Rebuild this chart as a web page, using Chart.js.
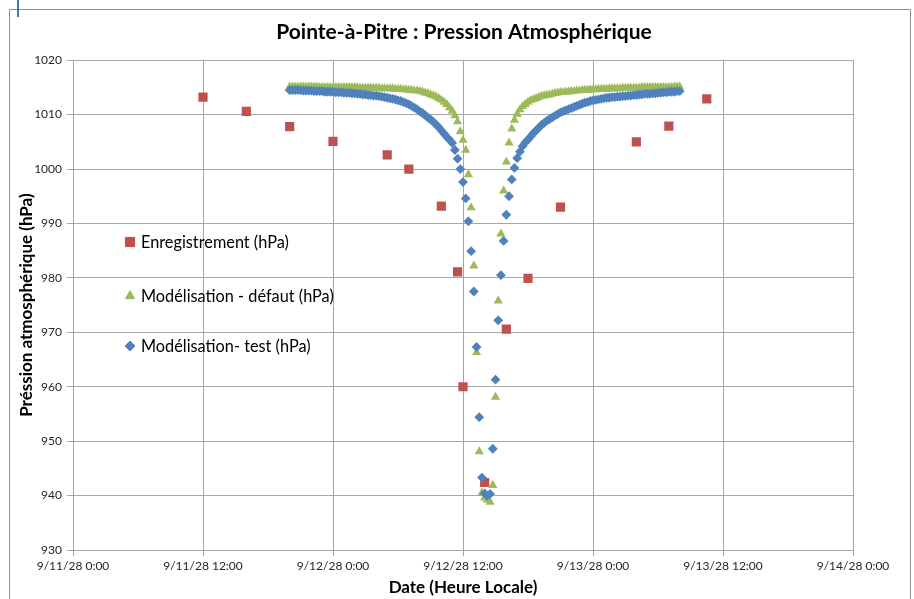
<!DOCTYPE html>
<html>
<head>
<meta charset="utf-8">
<title>Pointe-à-Pitre : Pression Atmosphérique</title>
<script src="https://cdn.jsdelivr.net/npm/chart.js@4.4.0/dist/chart.umd.min.js"></script>
<style>
  body { margin: 0; background: #fff; }
  #wrap { position: relative; width: 914px; height: 599px; }
</style>
</head>
<body>
<div id="wrap"><canvas id="pressureChart"></canvas></div>
<script>
// all times are hours counted from 9/11/28 0:00 (local time)
const recordHours  = [12, 16, 20, 24, 29, 31, 34, 35.5, 36, 38, 40, 42, 45, 52, 55, 58.5];
const recordValues = [1013.2, 1010.6, 1007.8, 1005.1, 1002.6, 1000.0, 993.2, 981.1, 960.0, 942.4, 970.6, 979.9, 993.0, 1005.0, 1007.9, 1012.9];

// model output, one value every quarter hour
const modelHours = [
  20, 20.25, 20.5, 20.75, 21, 21.25, 21.5, 21.75,
  22, 22.25, 22.5, 22.75, 23, 23.25, 23.5, 23.75,
  24, 24.25, 24.5, 24.75, 25, 25.25, 25.5, 25.75,
  26, 26.25, 26.5, 26.75, 27, 27.25, 27.5, 27.75,
  28, 28.25, 28.5, 28.75, 29, 29.25, 29.5, 29.75,
  30, 30.25, 30.5, 30.75, 31, 31.25, 31.5, 31.75,
  32, 32.25, 32.5, 32.75, 33, 33.25, 33.5, 33.75,
  34, 34.25, 34.5, 34.75, 35, 35.25, 35.5, 35.75,
  36, 36.25, 36.5, 36.75, 37, 37.25, 37.5, 37.75,
  38, 38.25, 38.5, 38.75, 39, 39.25, 39.5, 39.75,
  40, 40.25, 40.5, 40.75, 41, 41.25, 41.5, 41.75,
  42, 42.25, 42.5, 42.75, 43, 43.25, 43.5, 43.75,
  44, 44.25, 44.5, 44.75, 45, 45.25, 45.5, 45.75,
  46, 46.25, 46.5, 46.75, 47, 47.25, 47.5, 47.75,
  48, 48.25, 48.5, 48.75, 49, 49.25, 49.5, 49.75,
  50, 50.25, 50.5, 50.75, 51, 51.25, 51.5, 51.75,
  52, 52.25, 52.5, 52.75, 53, 53.25, 53.5, 53.75,
  54, 54.25, 54.5, 54.75, 55, 55.25, 55.5, 55.75,
  56
];
const defaultValues = [
  1015.1, 1015.1, 1015.1, 1015.1, 1015.1, 1015.1, 1015.1, 1015.1,
  1015.1, 1015.1, 1015.1, 1015.0, 1015.0, 1015.0, 1015.0, 1015.0,
  1015.0, 1015.0, 1015.0, 1015.0, 1015.0, 1015.0, 1015.0, 1015.0,
  1015.0, 1015.0, 1014.9, 1014.9, 1014.9, 1014.9, 1014.9, 1014.9,
  1014.9, 1014.9, 1014.8, 1014.8, 1014.8, 1014.8, 1014.8, 1014.7,
  1014.7, 1014.7, 1014.6, 1014.6, 1014.5, 1014.5, 1014.4, 1014.4,
  1014.3, 1014.2, 1014.0, 1013.9, 1013.7, 1013.5, 1013.3, 1013.0,
  1012.7, 1012.3, 1011.9, 1011.3, 1010.7, 1009.8, 1008.7, 1006.9,
  1005.3, 1003.5, 999.0, 992.9, 982.2, 966.3, 948.1, 940.5,
  939.6, 939.2, 938.8, 941.9, 958.1, 975.8, 988.1, 996.0,
  1001.3, 1004.8, 1007.4, 1009.0, 1010.1, 1010.9, 1011.5, 1011.9,
  1012.3, 1012.6, 1012.8, 1013.0, 1013.2, 1013.4, 1013.5, 1013.6,
  1013.7, 1013.8, 1013.9, 1014.0, 1014.1, 1014.1, 1014.2, 1014.2,
  1014.3, 1014.3, 1014.4, 1014.4, 1014.5, 1014.5, 1014.5, 1014.6,
  1014.6, 1014.6, 1014.7, 1014.7, 1014.7, 1014.7, 1014.8, 1014.8,
  1014.8, 1014.8, 1014.8, 1014.9, 1014.9, 1014.9, 1014.9, 1014.9,
  1014.9, 1014.9, 1015.0, 1015.0, 1015.0, 1015.0, 1015.0, 1015.0,
  1015.0, 1015.0, 1015.0, 1015.0, 1015.0, 1015.0, 1015.1, 1015.1,
  1015.1
];
const testValues = [
  1014.5, 1014.5, 1014.5, 1014.5, 1014.5, 1014.4, 1014.4, 1014.4,
  1014.4, 1014.3, 1014.3, 1014.3, 1014.3, 1014.2, 1014.2, 1014.2,
  1014.2, 1014.1, 1014.1, 1014.1, 1014.0, 1014.0, 1014.0, 1013.9,
  1013.9, 1013.8, 1013.8, 1013.7, 1013.7, 1013.6, 1013.6, 1013.5,
  1013.5, 1013.4, 1013.3, 1013.2, 1013.1, 1013.0, 1012.9, 1012.8,
  1012.6, 1012.5, 1012.3, 1012.1, 1011.9, 1011.6, 1011.3, 1011.0,
  1010.6, 1010.3, 1009.9, 1009.5, 1009.1, 1008.7, 1008.2, 1007.7,
  1007.1, 1006.5, 1005.9, 1005.4, 1004.8, 1003.5, 1001.9, 1000.0,
  997.6, 994.6, 990.4, 984.9, 977.5, 967.3, 954.4, 943.3,
  940.4, 940.0, 940.3, 948.6, 961.3, 972.2, 980.5, 986.8,
  991.6, 995.0, 998.1, 1000.2, 1002.0, 1003.2, 1004.2, 1004.9,
  1005.4, 1006.0, 1006.6, 1007.1, 1007.6, 1008.1, 1008.5, 1008.9,
  1009.2, 1009.5, 1009.8, 1010.1, 1010.4, 1010.6, 1010.8, 1011.0,
  1011.2, 1011.4, 1011.6, 1011.8, 1012.0, 1012.2, 1012.3, 1012.5,
  1012.6, 1012.7, 1012.8, 1012.9, 1013.0, 1013.1, 1013.1, 1013.2,
  1013.2, 1013.3, 1013.3, 1013.4, 1013.4, 1013.5, 1013.5, 1013.6,
  1013.6, 1013.7, 1013.7, 1013.8, 1013.8, 1013.8, 1013.9, 1013.9,
  1014.0, 1014.0, 1014.1, 1014.1, 1014.2, 1014.2, 1014.2, 1014.3,
  1014.3
];

const xTickLabels = ['9/11/28 0:00', '9/11/28 12:00', '9/12/28 0:00', '9/12/28 12:00', '9/13/28 0:00', '9/13/28 12:00', '9/14/28 0:00'];

const toPoints = (xs, ys) => xs.map((x, i) => ({ x: x, y: ys[i] }));

const gridColor = '#a6a6a6';
const tickFont = { family: 'Lato', size: 12 };
const titleFont = { family: 'Lato', size: 17, weight: 'bold' };

// white page with the thin frame around the chart
const framePlugin = {
  id: 'frame',
  beforeDraw(chart) {
    const ctx = chart.ctx;
    ctx.save();
    ctx.fillStyle = '#fff';
    ctx.fillRect(0, 0, chart.width, chart.height);
    ctx.strokeStyle = '#8c8c8c';
    ctx.lineWidth = 1;
    ctx.beginPath();
    ctx.moveTo(9.5, chart.height);
    ctx.lineTo(9.5, 9.5);
    ctx.lineTo(910.5, 9.5);
    ctx.lineTo(910.5, chart.height);
    ctx.stroke();
    ctx.strokeStyle = '#3c78a8';
    ctx.lineWidth = 2;
    ctx.beginPath();
    ctx.moveTo(18, 0);
    ctx.lineTo(18, 17);
    ctx.stroke();
    ctx.restore();
  }
};

// legend drawn inside the plot area, on the left
const insideLegend = {
  id: 'insideLegend',
  afterDatasetsDraw(chart) {
    const ctx = chart.ctx;
    const rows = [242, 296, 346];
    chart.data.datasets.forEach((ds, i) => {
      ctx.save();
      ctx.fillStyle = ds.backgroundColor;
      ctx.strokeStyle = ds.borderColor;
      Chart.helpers.drawPoint(ctx, { pointStyle: ds.pointStyle, radius: ds.pointRadius, borderWidth: 1, rotation: 0 }, 130, rows[i]);
      ctx.fillStyle = '#000';
      ctx.font = '16.3px Lato';
      ctx.textBaseline = 'middle';
      ctx.fillText(ds.label, 141, rows[i] + 1);
      ctx.restore();
    });
  }
};

const ctx = document.getElementById('pressureChart').getContext('2d');

const chart = new Chart(ctx, {
  type: 'scatter',
  data: {
    datasets: [{
      label: 'Enregistrement (hPa)',
      data: toPoints(recordHours, recordValues),
      pointStyle: 'rect',
      pointRadius: 6.5,
      backgroundColor: '#c0504d',
      borderColor: '#c0504d',
      borderWidth: 0,
      order: 3
    }, {
      label: 'Modélisation - défaut (hPa)',
      data: toPoints(modelHours, defaultValues),
      pointStyle: 'triangle',
      pointRadius: 5.3,
      backgroundColor: '#9bbb59',
      borderColor: '#9bbb59',
      borderWidth: 0,
      order: 2
    }, {
      label: 'Modélisation- test (hPa)',
      data: toPoints(modelHours, testValues),
      pointStyle: 'rectRot',
      pointRadius: 4.9,
      backgroundColor: '#4f81bd',
      borderColor: '#4f81bd',
      borderWidth: 0,
      order: 1
    }]
  },
  options: {
    responsive: true,
    maintainAspectRatio: false,
    animation: false,
    layout: { padding: { left: 14, right: 0, top: 0, bottom: 0 } },
    plugins: {
      legend: { display: false },
      tooltip: { enabled: false },
      title: {
        display: true,
        text: 'Pointe-à-Pitre : Pression Atmosphérique',
        color: '#000',
        font: { family: 'Lato', size: 21, weight: 'bold' },
        padding: { top: 20, bottom: 15 }
      }
    },
    scales: {
      x: {
        type: 'linear',
        min: 0,
        max: 72,
        ticks: {
          stepSize: 12,
          maxRotation: 0,
          autoSkip: false,
          padding: 3,
          color: '#262626',
          font: tickFont,
          callback: (value, index) => xTickLabels[index]
        },
        grid: { color: gridColor, tickLength: 6 },
        border: { color: gridColor },
        title: {
          display: true,
          text: 'Date (Heure Locale)',
          color: '#000',
          font: titleFont,
          padding: { top: 0, bottom: 1 }
        },
        afterFit: (scale) => { scale.height = 49; }
      },
      y: {
        min: 930,
        max: 1020,
        ticks: {
          stepSize: 10,
          padding: 5,
          color: '#262626',
          font: tickFont,
          callback: (value) => String(value)
        },
        grid: { color: gridColor, tickLength: 6 },
        border: { color: gridColor },
        title: {
          display: true,
          text: 'Préssion atmosphérique (hPa)',
          color: '#000',
          font: titleFont,
          padding: { top: 2, bottom: 0 }
        },
        afterFit: (scale) => { scale.width = 59; }
      },
      // empty right-hand margin so the plot ends at 9/14/28 0:00
      yRight: {
        type: 'linear',
        position: 'right',
        min: 930,
        max: 1020,
        grid: { display: false, drawTicks: false },
        ticks: { display: false },
        border: { display: false },
        afterFit: (scale) => { scale.width = 61; }
      }
    }
  },
  plugins: [framePlugin, insideLegend]
});
</script>
</body>
</html>
